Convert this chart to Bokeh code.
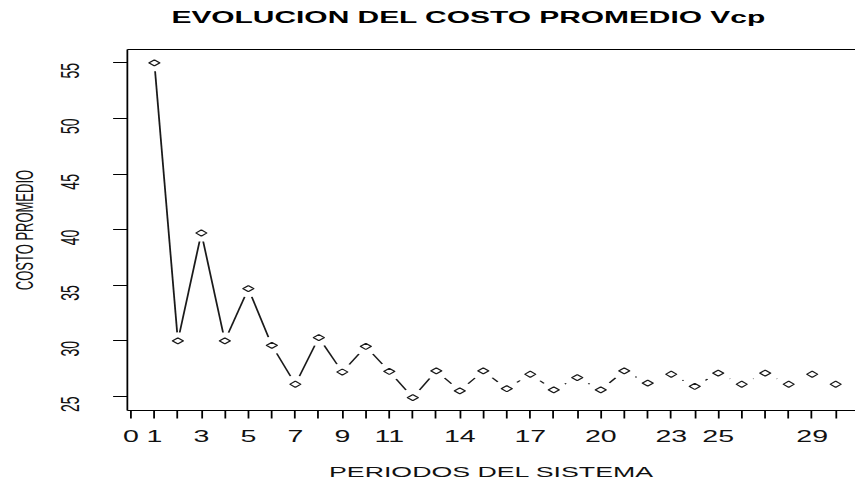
import math

from bokeh.embed import file_html
from bokeh.models import FixedTicker, InlineStyleSheet, LinearAxis, Range1d
from bokeh.plotting import figure
from bokeh.resources import INLINE

# Average cost per period of the system
periodos = list(range(1, 31))
costo_promedio = [55.0, 30.0, 39.7, 30.0, 34.7, 29.6, 26.1, 30.3, 27.2, 29.5,
                  27.25, 24.9, 27.3, 25.5, 27.3, 25.7, 27.0, 25.6, 26.7, 25.6,
                  27.3, 26.2, 27.0, 25.9, 27.1, 26.1, 27.1, 26.1, 27.0, 26.1]

x_ticks = list(range(0, 31))
x_tick_labels = [0, 1, 3, 5, 7, 9, 11, 14, 17, 20, 23, 25, 29]
y_ticks = [25, 30, 35, 40, 45, 50, 55]

titulo = "EVOLUCION DEL COSTO PROMEDIO Vcp"
etiqueta_x = "PERIODOS DEL SISTEMA"
etiqueta_y = "COSTO PROMEDIO"

# The drawing is laid out on a 480 px wide canvas and widened to the window.
STRETCH = 855 / 480
W, H = 480, 483
BORDER_LEFT, BORDER_RIGHT, BORDER_TOP, BORDER_BOTTOM = 71, 0, 49, 73
X0, X1 = -0.15, 30.86
Y0, Y1 = 23.74, 56.2
FONT = "Liberation Sans"

p = figure(width=W, height=H, output_backend="svg", toolbar_location=None,
           x_range=Range1d(X0, X1), y_range=Range1d(Y0, Y1),
           min_border_left=BORDER_LEFT, min_border_right=BORDER_RIGHT,
           min_border_top=BORDER_TOP, min_border_bottom=BORDER_BOTTOM,
           x_axis_location=None, y_axis_location=None)
p.stylesheets = [InlineStyleSheet(css=(
    ":host > div { transform: scaleX(%f); transform-origin: 0 0; }" % STRETCH))]
p.outline_line_color = None
p.background_fill_color = "white"
p.border_fill_color = "white"
p.xgrid.visible = False
p.ygrid.visible = False

frame_w = W - BORDER_LEFT - BORDER_RIGHT
frame_h = H - BORDER_TOP - BORDER_BOTTOM
px_x = frame_w / (X1 - X0)
px_y = frame_h / (Y1 - Y0)

# bottom axis: a tick at every period, labels only where they fit
xaxis = LinearAxis(ticker=FixedTicker(ticks=x_ticks))
xaxis.major_label_overrides = {t: (str(t) if t in x_tick_labels else "") for t in x_ticks}
xaxis.axis_label = etiqueta_x
p.add_layout(xaxis, "below")

yaxis = LinearAxis(ticker=FixedTicker(ticks=y_ticks))
yaxis.major_label_orientation = math.pi / 2
yaxis.axis_label = etiqueta_y
p.add_layout(yaxis, "left")

for ax in (xaxis, yaxis):
    ax.axis_line_color = "black"
    ax.axis_line_width = 1
    ax.major_tick_line_color = "black"
    ax.major_tick_in = 0
    ax.major_tick_out = 8
    ax.minor_tick_line_color = None
    ax.major_label_text_font = FONT
    ax.major_label_text_color = "#111111"
    ax.axis_label_text_font = FONT
    ax.axis_label_text_font_style = "normal"
    ax.axis_label_text_color = "#111111"

xaxis.major_label_text_font_size = "16px"
xaxis.major_label_standoff = 12
xaxis.axis_label_text_font_size = "15px"
xaxis.axis_label_standoff = 18

yaxis.major_label_text_font_size = "14px"
yaxis.major_label_standoff = 24
yaxis.axis_label_text_font_size = "13px"
yaxis.axis_label_standoff = 5

# top edge of the box, carrying the title over the middle of the drawing
title_x = X0 + (262.5 - BORDER_LEFT) / px_x
top = LinearAxis(ticker=FixedTicker(ticks=[title_x]))
top.major_label_overrides = {title_x: titulo}
top.axis_line_color = "black"
top.major_tick_line_color = None
top.minor_tick_line_color = None
top.major_tick_out = 0
top.major_tick_in = 0
top.major_label_standoff = 22
top.major_label_text_font = FONT
top.major_label_text_font_style = "bold"
top.major_label_text_font_size = "16.8px"
top.major_label_text_color = "black"
p.add_layout(top, "above")

# line with gaps around each point
GAP = 8.5
sx0, sy0, sx1, sy1 = [], [], [], []
for i in range(len(periodos) - 1):
    dx = periodos[i + 1] - periodos[i]
    dy = costo_promedio[i + 1] - costo_promedio[i]
    length = math.hypot(dx * px_x, dy * px_y)
    if length > 2 * GAP:
        f = GAP / length
        sx0.append(periodos[i] + dx * f)
        sy0.append(costo_promedio[i] + dy * f)
        sx1.append(periodos[i + 1] - dx * f)
        sy1.append(costo_promedio[i + 1] - dy * f)
p.segment(sx0, sy0, sx1, sy1, line_color="#1a1a1a", line_width=1)

p.scatter(periodos, costo_promedio, marker="square", size=4.3, angle=math.pi / 4,
          fill_color="white", line_color="#1a1a1a", line_width=1)

open("out.html", "w").write(file_html(p, INLINE))
